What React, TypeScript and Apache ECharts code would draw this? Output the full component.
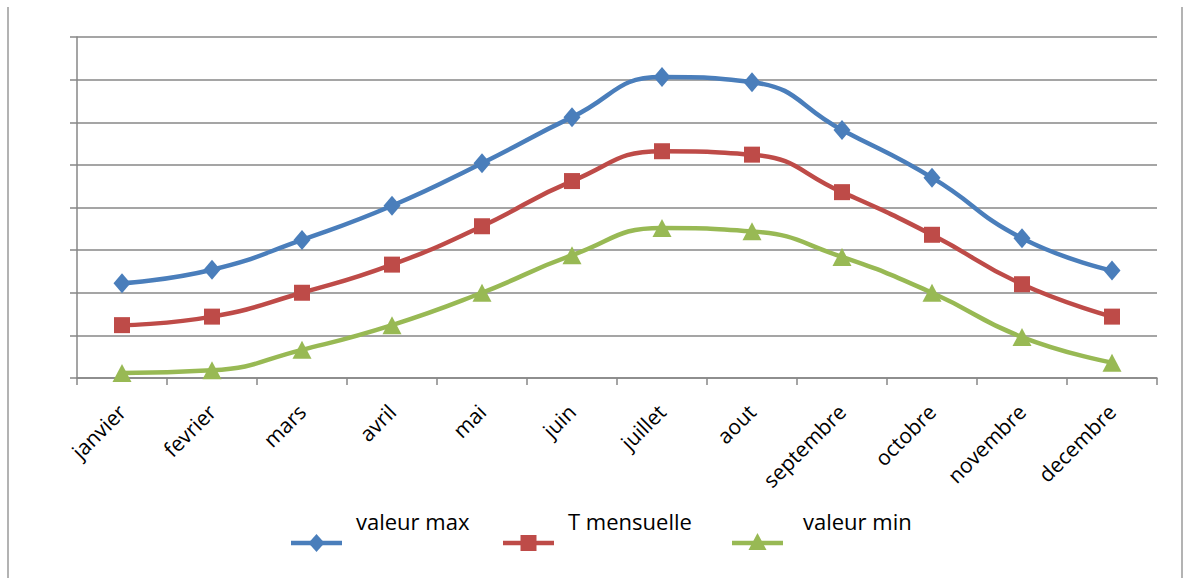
import React, { useEffect, useRef } from "react";
import * as echarts from "echarts";

const categories = ["janvier", "fevrier", "mars", "avril", "mai", "juin", "juillet", "aout", "septembre", "octobre", "novembre", "decembre"];
const valeurMax = [11.1, 12.7, 16.2, 20.2, 25.2, 30.6, 35.3, 34.7, 29.1, 23.5, 16.4, 12.6];
const tMensuelle = [6.2, 7.2, 10.0, 13.3, 17.8, 23.1, 26.6, 26.2, 21.8, 16.8, 11.0, 7.2];
const valeurMin = [0.6, 0.9, 3.3, 6.2, 10.0, 14.4, 17.6, 17.2, 14.2, 10.0, 4.8, 1.8];
const seriesNames = ["valeur max", "T mensuelle", "valeur min"];
const colors = ["#4A7EBB", "#BE4B48", "#98B954"];

const FONT = "'Open Sans', sans-serif";

export default function App() {
  const ref = useRef<HTMLDivElement>(null);
  useEffect(() => {
    if (!ref.current) return;
    const chart = echarts.init(ref.current, undefined, { renderer: "svg" });
    const axisColor = "#878787";
    const legendItems = [
      { lx: 291, tx: 356 },
      { lx: 503, tx: 568 },
      { lx: 732, tx: 803 },
    ];
    const symbolFor = (i: number, cx: number, cy: number) => {
      if (i === 0) {
        return { type: "polygon", shape: { points: [[cx, cy - 9], [cx + 8, cy], [cx, cy + 9], [cx - 8, cy]] }, style: { fill: colors[0] } };
      } else if (i === 1) {
        return { type: "rect", shape: { x: cx - 8, y: cy - 8, width: 16, height: 16 }, style: { fill: colors[1] } };
      }
      return { type: "polygon", shape: { points: [[cx, cy - 10], [cx + 9, cy + 7], [cx - 9, cy + 7]] }, style: { fill: colors[2] } };
    };
    const graphics: any[] = [
      { type: "line", shape: { x1: 8, y1: 7, x2: 8, y2: 578 }, style: { stroke: "#9a9a9a", lineWidth: 1.5 } },
      { type: "line", shape: { x1: 1182, y1: 7, x2: 1182, y2: 578 }, style: { stroke: "#9a9a9a", lineWidth: 1.5 } },
    ];
    legendItems.forEach((it, i) => {
      graphics.push({ type: "line", shape: { x1: it.lx, y1: 543, x2: it.lx + 51, y2: 543 }, style: { stroke: colors[i], lineWidth: 4.5 } });
      graphics.push(symbolFor(i, it.lx + 25.5, 543));
      graphics.push({
        type: "text",
        x: it.tx,
        y: 521,
        style: { text: seriesNames[i], font: `22px ${FONT}`, fill: "#000", verticalAlign: "middle", align: "left" },
      });
    });
    const symbols = ["diamond", "rect", "triangle"];
    const sizes: any[] = [[17, 20], 16, [19, 18]];
    const data = [valeurMax, tMensuelle, valeurMin];
    chart.setOption({
      animation: false,
      grid: { left: 77, right: 26, top: 37, bottom: 200, containLabel: false },
      xAxis: {
        type: "category",
        data: categories,
        boundaryGap: true,
        axisLine: { show: true, lineStyle: { color: axisColor, width: 1.5 } },
        axisTick: { show: true, length: 7, lineStyle: { color: axisColor, width: 1.5 } },
        axisLabel: { rotate: 45, margin: 30, fontSize: 21, fontFamily: FONT, color: "#000", interval: 0 },
      },
      yAxis: {
        type: "value",
        min: 0,
        max: 40,
        interval: 5,
        axisLine: { show: true, lineStyle: { color: axisColor, width: 1.5 } },
        axisTick: { show: true, inside: false, length: 7, lineStyle: { color: axisColor, width: 1.5 } },
        axisLabel: { show: false },
        splitLine: { show: true, lineStyle: { color: axisColor, width: 1.5 } },
      },
      series: data.map((d, i) => ({
        name: seriesNames[i],
        type: "line",
        data: d,
        smooth: 0.5,
        symbol: symbols[i],
        symbolSize: sizes[i],
        lineStyle: { color: colors[i], width: 4.5 },
        itemStyle: { color: colors[i] },
        z: 3 - i,
      })),
      graphic: graphics,
    });
    return () => chart.dispose();
  }, []);
  return <div ref={ref} style={{ position: "fixed", left: 0, top: 0, width: 1183, height: 578, background: "#fff" }} />;
}
